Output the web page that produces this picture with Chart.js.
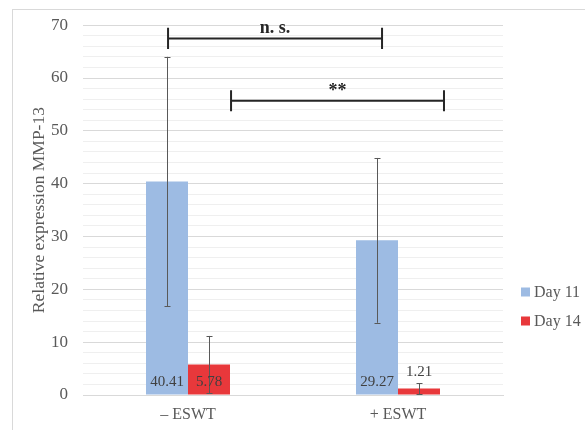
<!DOCTYPE html>
<html>
<head>
<meta charset="utf-8">
<script src="https://cdn.jsdelivr.net/npm/chart.js@4.4.0/dist/chart.umd.min.js"></script>
<style>
  html, body { margin: 0; padding: 0; background: #ffffff; }
  #wrap { width: 585px; height: 430px; position: relative; }
</style>
</head>
<body>
<div id="wrap"><canvas id="c" width="585" height="430"></canvas></div>
<script>
// ---- Data ----
const categories = ['\u2013 ESWT', '+ ESWT'];
const seriesNames = ['Day 11', 'Day 14'];
const day11 = [40.41, 29.27];
const day14 = [5.78, 1.21];
const day11Err = [23.6, 15.6];
const day14Err = [5.4, 1.05];
const yMin = 0, yMax = 70, yMinorStep = 2, yMajorStep = 10;
// significance brackets: label, from / to (category units), level (y value)
const bracketLabels = ['n. s.', '**'];
const bracketFrom = [-0.095, 0.205];
const bracketTo = [0.924, 1.219];
const bracketLevel = [67.5, 55.7];

const FONT = "'Liberation Serif', 'DejaVu Serif', serif";
const TXT = '#595959';
const colors = ['#9dbbe3', '#e8383b'];

const errs = [day11Err, day14Err];

const extras = {
  id: 'extras',
  beforeDraw(chart) {
    const ctx = chart.ctx;
    ctx.save();
    ctx.strokeStyle = '#d9d9d9';
    ctx.lineWidth = 1;
    ctx.strokeRect(12.5, 9.5, 640, 480);
    ctx.restore();
  },
  afterDatasetsDraw(chart) {
    const ctx = chart.ctx;
    const y = chart.scales.y, x = chart.scales.x;
    ctx.save();
    // error bars
    chart.data.datasets.forEach((ds, di) => {
      const meta = chart.getDatasetMeta(di);
      meta.data.forEach((bar, i) => {
        const v = ds.data[i], e = errs[di][i];
        const cx = Math.round(bar.x) + 0.5;
        const yt = y.getPixelForValue(v + e), yb = y.getPixelForValue(Math.max(v - e, 0));
        ctx.strokeStyle = '#595959';
        ctx.lineWidth = 1;
        ctx.beginPath();
        ctx.moveTo(cx, yt); ctx.lineTo(cx, yb);
        ctx.moveTo(cx - 3, Math.round(yt) + 0.5); ctx.lineTo(cx + 3, Math.round(yt) + 0.5);
        ctx.moveTo(cx - 3, Math.round(yb) + 0.5); ctx.lineTo(cx + 3, Math.round(yb) + 0.5);
        ctx.stroke();
      });
    });
    // data labels
    ctx.font = '15px ' + FONT;
    ctx.fillStyle = '#404040';
    ctx.textAlign = 'center';
    ctx.textBaseline = 'middle';
    chart.data.datasets.forEach((ds, di) => {
      const meta = chart.getDatasetMeta(di);
      meta.data.forEach((bar, i) => {
        const v = ds.data[i];
        const h = bar.base - bar.y;
        const ty = h > 25 ? bar.base - 12 : bar.y - 17;
        ctx.fillText(v.toFixed(2), bar.x, ty);
      });
    });
    // significance brackets
    ctx.strokeStyle = '#262626';
    ctx.lineWidth = 2;
    ctx.fillStyle = '#262626';
    ctx.font = 'bold 18px ' + FONT;
    ctx.textBaseline = 'alphabetic';
    bracketLabels.forEach((lab, k) => {
      const x1 = x.getPixelForValue(bracketFrom[k]);
      const x2 = x.getPixelForValue(bracketTo[k]);
      const yy = y.getPixelForValue(bracketLevel[k]);
      const yt = y.getPixelForValue(bracketLevel[k] + 2);
      const yb = y.getPixelForValue(bracketLevel[k] - 2);
      ctx.beginPath();
      ctx.moveTo(x1, yy); ctx.lineTo(x2, yy);
      ctx.moveTo(x1, yt); ctx.lineTo(x1, yb);
      ctx.moveTo(x2, yt); ctx.lineTo(x2, yb);
      ctx.stroke();
      ctx.fillText(lab, (x1 + x2) / 2, yy - 5);
    });
    ctx.restore();
  },
  afterDraw(chart) {
    // legend
    const ctx = chart.ctx;
    const area = chart.chartArea;
    ctx.save();
    ctx.font = '16px ' + FONT;
    ctx.textAlign = 'left';
    ctx.textBaseline = 'middle';
    chart.data.datasets.forEach((ds, di) => {
      const cy = 292 + di * 29;
      const bx = area.right + 18;
      ctx.fillStyle = ds.backgroundColor;
      ctx.fillRect(bx, cy - 4.5, 9, 9);
      ctx.fillStyle = TXT;
      ctx.fillText(ds.label, bx + 13, cy + 1);
    });
    ctx.restore();
  }
};

new Chart(document.getElementById('c'), {
  type: 'bar',
  data: {
    labels: categories,
    datasets: [
      { label: seriesNames[0], data: day11, backgroundColor: colors[0], categoryPercentage: 0.4, barPercentage: 1.0 },
      { label: seriesNames[1], data: day14, backgroundColor: colors[1], categoryPercentage: 0.4, barPercentage: 1.0 }
    ]
  },
  options: {
    responsive: false,
    animation: false,
    devicePixelRatio: 1,
    layout: { padding: { left: 21, right: 82, top: 16, bottom: 0 } },
    plugins: { legend: { display: false }, tooltip: { enabled: false } },
    scales: {
      x: {
        afterFit: (s) => { s.height = 35; },
        grid: { display: false, drawTicks: false },
        border: { display: true, color: '#d9d9d9', width: 1 },
        ticks: { color: TXT, font: { family: FONT, size: 16 }, padding: 10 }
      },
      y: {
        min: yMin, max: yMax,
        afterFit: (s) => { s.width = 62; },
        border: { display: false },
        grid: {
          drawTicks: false,
          color: (c) => (c.tick && c.tick.value % yMajorStep === 0) ? '#d9d9d9' : '#efefef',
          lineWidth: 1
        },
        ticks: {
          stepSize: yMinorStep,
          autoSkip: false,
          color: TXT,
          font: { family: FONT, size: 17 },
          padding: 15,
          callback: (v) => (v % yMajorStep === 0 ? String(v) : '')
        },
        title: {
          display: true,
          text: 'Relative expression MMP-13',
          color: TXT,
          font: { family: FONT, size: 17.5 },
          padding: { top: 8, bottom: 0 }
        }
      }
    }
  },
  plugins: [extras]
});
</script>
</body>
</html>
